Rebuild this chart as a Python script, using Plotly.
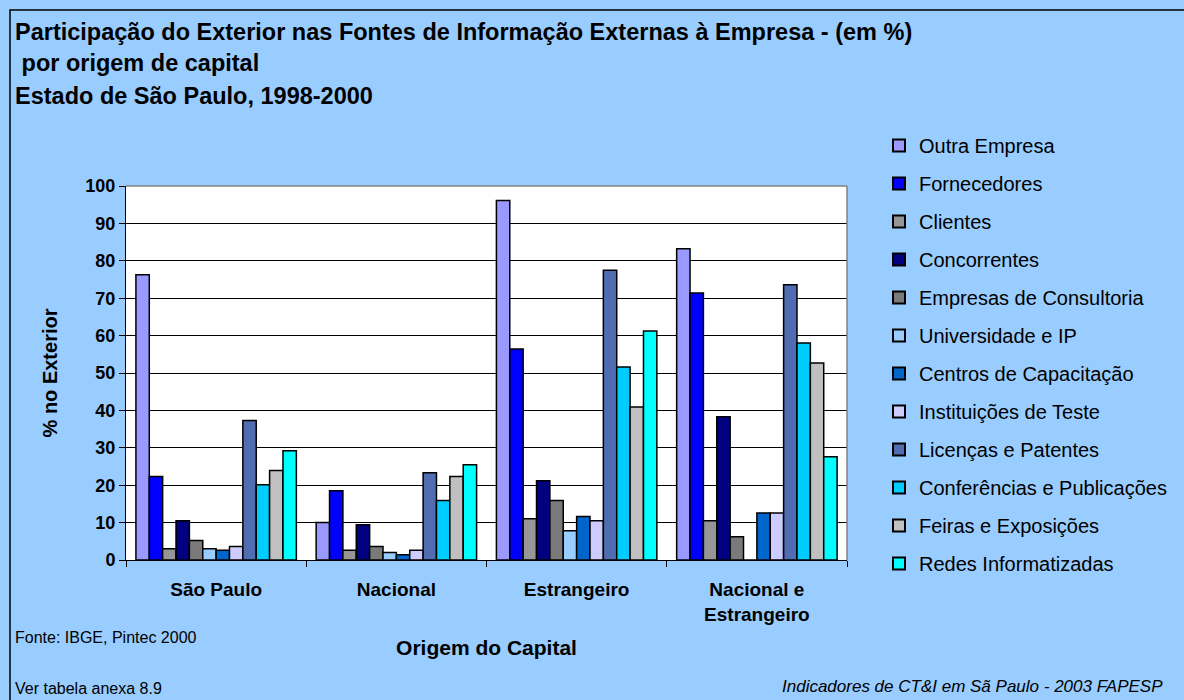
import plotly.graph_objects as go

categories = ["São Paulo", "Nacional", "Estrangeiro", "Nacional e<br>Estrangeiro"]

series_names = [
    "Outra Empresa", "Fornecedores", "Clientes", "Concorrentes",
    "Empresas de Consultoria", "Universidade e IP", "Centros de Capacitação",
    "Instituições de Teste", "Licenças e Patentes", "Conferências e Publicações",
    "Feiras e Exposições", "Redes Informatizadas",
]

outra_empresa = [76.3, 10.0, 96.1, 83.2]
fornecedores = [22.3, 18.5, 56.4, 71.4]
clientes = [3.0, 2.6, 11.0, 10.5]
concorrentes = [10.5, 9.4, 21.2, 38.3]
consultoria = [5.2, 3.6, 15.9, 6.2]
universidade = [3.0, 2.0, 7.8, 0.0]
centros = [2.6, 1.4, 11.6, 12.6]
instituicoes = [3.6, 2.6, 10.5, 12.6]
licencas = [37.3, 23.3, 77.5, 73.6]
conferencias = [20.1, 15.9, 51.6, 58.0]
feiras = [23.9, 22.3, 40.9, 52.7]
redes = [29.2, 25.5, 61.2, 27.6]

series_values = [outra_empresa, fornecedores, clientes, concorrentes, consultoria,
                 universidade, centros, instituicoes, licencas, conferencias,
                 feiras, redes]

colors = ["#9999FF", "#0000FF", "#969696", "#000080", "#7a7a7a", "#99CCFF",
          "#0066CC", "#CCCCFF", "#4F6DB0", "#00CCFF", "#C0C0C0", "#00FFFF"]

y_ticks = [0, 10, 20, 30, 40, 50, 60, 70, 80, 90, 100]

BG = "#99CCFF"
FONT = "Liberation Sans, Arial, sans-serif"

fig = go.Figure()
for i, (name, vals, col) in enumerate(zip(series_names, series_values, colors)):
    fig.add_trace(go.Bar(
        name=name, x=categories, y=vals,
        marker=dict(color=col, line=dict(color="black", width=1.5)),
        legendgroup=f"g{i}",
    ))

W, H = 1184, 700
L, R, T, B = 126, 847, 186, 560

def px_x(px):
    return (px - L) / (R - L)

def px_y(py):
    return (B - py) / (B - T)

fig.update_layout(
    width=W, height=H,
    margin=dict(l=L, r=W - R, t=T, b=H - B, pad=0),
    paper_bgcolor=BG, plot_bgcolor="white",
    barmode="group", bargap=0.11, bargroupgap=0.0,
    font=dict(family=FONT, color="black"),
    showlegend=True,
    legend=dict(
        x=px_x(879), xanchor="left", y=px_y(126), yanchor="top",
        font=dict(size=20, family=FONT), bgcolor="rgba(0,0,0,0)",
        traceorder="grouped", tracegroupgap=9,
        itemsizing="constant", maxheight=650,
    ),
    xaxis=dict(
        tickfont=dict(size=19, family=FONT, weight="bold"),
        showline=True, linecolor="black", linewidth=1,
        ticks="outside", tickson="boundaries", ticklen=6, tickcolor="black",
        ticklabelstandoff=12,
        title=dict(text="<b>Origem do Capital</b>", font=dict(size=21), standoff=16),
        mirror=False,
    ),
    yaxis=dict(
        range=[0, 100], tickvals=y_ticks,
        tickfont=dict(size=18, family=FONT, weight="bold"),
        showgrid=True, gridcolor="black", gridwidth=1,
        showline=True, linecolor="black", linewidth=1,
        ticks="outside", ticklen=6, tickcolor="black",
        title=dict(text="<b>% no Exterior</b>", font=dict(size=20), standoff=22),
        zeroline=False,
    ),
)

# top / right border of plot area (gray)
fig.add_shape(type="line", xref="paper", yref="paper", x0=0, x1=1, y0=1, y1=1,
              line=dict(color="#808080", width=1.5))
fig.add_shape(type="line", xref="paper", yref="paper", x0=1, x1=1, y0=0, y1=1,
              line=dict(color="#808080", width=1.5))
# chart outer border
fig.add_shape(type="rect", xref="paper", yref="paper",
              x0=px_x(10), x1=px_x(1200), y0=px_y(720), y1=px_y(10),
              line=dict(color="black", width=1.5), fillcolor="rgba(0,0,0,0)", layer="below")

title_lines = [
    ("Participação do Exterior nas Fontes de Informação Externas à Empresa - (em %)", 32),
    (" por origem de capital", 63),
    ("Estado de São Paulo, 1998-2000", 96),
]
for txt, yc in title_lines:
    fig.add_annotation(text=f"<b>{txt}</b>", xref="paper", yref="paper",
                       x=px_x(13), y=px_y(yc), xanchor="left", yanchor="middle",
                       showarrow=False, font=dict(size=23.5, family=FONT))

fig.add_annotation(text="Fonte: IBGE, Pintec 2000", xref="paper", yref="paper",
                   x=px_x(13), y=px_y(637), xanchor="left", yanchor="middle",
                   showarrow=False, font=dict(size=16, family=FONT))
fig.add_annotation(text="Ver tabela anexa 8.9", xref="paper", yref="paper",
                   x=px_x(13), y=px_y(688), xanchor="left", yanchor="middle",
                   showarrow=False, font=dict(size=16, family=FONT))
fig.add_annotation(text="<i>Indicadores de CT&I em Sã Paulo - 2003 FAPESP</i>",
                   xref="paper", yref="paper",
                   x=px_x(1165), y=px_y(686), xanchor="right", yanchor="middle",
                   showarrow=False, font=dict(size=17, family=FONT))

fig.write_html(
    "out.html",
    config={"displayModeBar": False},
    post_script=(
        "document.documentElement.style.margin='0';"
        "document.body.style.margin='0';"
        "document.body.style.overflow='hidden';"
        "document.body.style.background='#99CCFF';"
    ),
)
